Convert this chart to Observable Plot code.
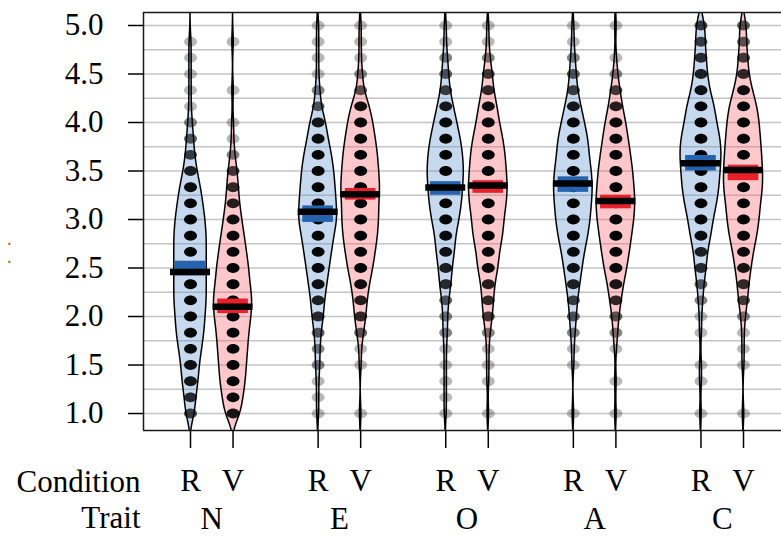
<!DOCTYPE html>
<html><head><meta charset="utf-8">
<script src="https://cdn.jsdelivr.net/npm/d3@7"></script>
<script src="https://cdn.jsdelivr.net/npm/@observablehq/plot@0.6"></script>
<style>
html,body{margin:0;padding:0;background:#fff;overflow:hidden}
</style>
</head><body><div id="chart"></div>
<script>
const traits = ["N", "E", "O", "A", "C"];
const conditions = ["R", "V"];
// response levels (1/6 steps)
const levels = [1.000,1.167,1.333,1.500,1.667,1.833,2.000,2.167,2.333,2.500,2.667,2.833,3.000,3.167,3.333,3.500,3.667,3.833,4.000,4.167,4.333,4.500,4.667,4.833,5.000];
// number of responses at each level (index 0 = 1.0 ... 24 = 5.0)
const countsNR = [4,5,7,8,10,12,13,14,14,14,14,14,13,11,9,6,4,3,2,1,1,1,1,1,0];
const countsNV = [7,9,11,12,13,14,16,17,15,14,12,10,8,6,5,4,2,1,1,0,1,0,0,1,0];
const countsER = [1,1,1,2,2,3,5,6,8,10,12,14,17,16,15,14,12,9,7,3,2,1,1,1,1];
const countsEV = [1,0,0,1,1,3,5,6,8,11,13,15,16,16,17,16,15,13,11,8,3,2,1,1,1];
const countsOR = [1,1,1,1,1,2,2,3,5,6,8,9,12,14,15,16,15,13,10,7,4,3,2,1,1];
const countsOV = [1,0,1,1,1,2,4,5,6,9,10,13,14,16,17,16,15,13,10,8,5,4,2,1,1];
const countsAR = [1,0,0,1,1,2,3,4,6,8,10,13,15,16,17,16,14,13,10,7,4,3,2,1,1];
const countsAV = [1,0,1,0,1,2,3,5,7,10,12,14,16,17,16,15,13,11,9,6,4,2,1,0,1];
const countsCR = [1,0,1,1,0,1,1,2,3,5,6,9,11,14,16,17,18,17,14,12,8,6,5,4,4];
const countsCV = [1,0,0,1,1,1,2,4,5,7,9,12,14,15,17,17,16,15,14,12,8,5,4,3,3];
// means and inference bands per trait
const meanR  = [2.46, 3.08, 3.33, 3.37, 3.58];
const meanV  = [2.10, 3.26, 3.35, 3.19, 3.51];
const infLoR = [2.42, 2.97, 3.25, 3.28, 3.50];
const infHiR = [2.57, 3.14, 3.39, 3.44, 3.66];
const infLoV = [2.03, 3.20, 3.27, 3.11, 3.40];
const infHiV = [2.18, 3.32, 3.40, 3.25, 3.56];
const yTicks = [1.0, 1.5, 2.0, 2.5, 3.0, 3.5, 4.0, 4.5, 5.0];
const gridLevels = [1.0,1.25,1.5,1.75,2.0,2.25,2.5,2.75,3.0,3.25,3.5,3.75,4.0,4.25,4.5,4.75,5.0];

const countsByBean = {NR: countsNR, NV: countsNV, ER: countsER, EV: countsEV, OR: countsOR,
  OV: countsOV, AR: countsAR, AV: countsAV, CR: countsCR, CV: countsCV};

const beans = [];
traits.forEach((t, i) => conditions.forEach((c, j) => {
  beans.push({
    id: t + c, trait: t, cond: c, pos: 3 * i + j + 1,
    counts: countsByBean[t + c],
    mean: (c === "R" ? meanR : meanV)[i],
    lo: (c === "R" ? infLoR : infLoV)[i],
    hi: (c === "R" ? infHiR : infHiV)[i]
  });
}));
const traitPos = traits.map((t, i) => 3 * i + 1.5);

// kernel density per bean
const bw = 0.11;
let maxD = 0;
const densRows = [];
const dotRows = [];
for (const b of beans) {
  const pts = levels.map((v, k) => ({v, n: b.counts[k]})).filter(p => p.n > 0);
  pts.forEach(p => dotRows.push({pos: b.pos, y: p.v, n: p.n}));
  const lo = d3.min(pts, p => p.v) - 4 * bw, hi = d3.max(pts, p => p.v) + 4 * bw;
  for (let y = lo; y <= hi + 1e-9; y += 0.005) {
    let s = 0;
    for (const p of pts) s += p.n * Math.exp(-0.5 * ((y - p.v) / bw) ** 2);
    densRows.push({id: b.id, cond: b.cond, pos: b.pos, y, d: s});
    if (s > maxD) maxD = s;
  }
}
const widthMax = 0.48;
densRows.forEach(r => r.hw = r.d / maxD * widthMax);

// slightly wide oval point symbol (jittered points look oval)
const ovalSymbol = {
  draw(ctx, size) {
    const r = Math.sqrt(size / Math.PI);
    const rx = r * 1.15, ry = r * 0.88, k = 0.5523;
    ctx.moveTo(rx, 0);
    ctx.bezierCurveTo(rx, ry * k, rx * k, ry, 0, ry);
    ctx.bezierCurveTo(-rx * k, ry, -rx, ry * k, -rx, 0);
    ctx.bezierCurveTo(-rx, -ry * k, -rx * k, -ry, 0, -ry);
    ctx.bezierCurveTo(rx * k, -ry, rx, -ry * k, rx, 0);
    ctx.closePath();
  }
};

const blueFill = "#5c92d1", redFill = "#f6626d";
const blueBand = "#2563ae", redBand = "#e8202a";
const xDomain = [-0.105, 14.893];
const yDomain = [0.825, 5.134];
const alpha = 0.28;

const chart = Plot.plot({
  width: 781, height: 536,
  marginLeft: 143, marginRight: 0, marginTop: 12, marginBottom: 106,
  x: {domain: xDomain, label: null},
  y: {domain: yDomain, label: null},
  opacity: {type: "identity"},
  style: {fontFamily: "'Liberation Serif', 'Times New Roman', serif", fontSize: "31px", background: "#fff"},
  marks: [
    Plot.ruleY(gridLevels, {stroke: "#c4c4c4", strokeWidth: 1.5}),
    Plot.areaX(densRows.filter(d => d.cond === "R"), {y: "y", x1: d => d.pos - d.hw, x2: d => d.pos + d.hw, z: "id",
      fill: blueFill, fillOpacity: 0.35, stroke: "#000", strokeWidth: 1.5, clip: true}),
    Plot.areaX(densRows.filter(d => d.cond === "V"), {y: "y", x1: d => d.pos - d.hw, x2: d => d.pos + d.hw, z: "id",
      fill: redFill, fillOpacity: 0.35, stroke: "#000", strokeWidth: 1.5, clip: true}),
    Plot.dot(dotRows, {x: "pos", y: "y", r: 5.6, symbol: ovalSymbol, fill: "#000", stroke: "none",
      fillOpacity: d => 1 - Math.pow(1 - alpha, d.n), clip: true}),
    Plot.rect(beans.filter(b => b.cond === "R"), {x1: d => d.pos - 0.36, x2: d => d.pos + 0.36, y1: "lo", y2: "hi", fill: blueBand}),
    Plot.rect(beans.filter(b => b.cond === "V"), {x1: d => d.pos - 0.36, x2: d => d.pos + 0.36, y1: "lo", y2: "hi", fill: redBand}),
    Plot.ruleY(beans, {y: "mean", x1: d => d.pos - 0.47, x2: d => d.pos + 0.47, stroke: "#000", strokeWidth: 6.5}),
    Plot.ruleX([xDomain[0]], {stroke: "#1a1a1a", strokeWidth: 1.5}),
    Plot.ruleY([yDomain[0], yDomain[1]], {stroke: "#1a1a1a", strokeWidth: 1.5}),
    Plot.axisY(yTicks, {tickFormat: d => d.toFixed(1), tickSize: 15, tickPadding: 25, strokeWidth: 1.5, fontSize: 31, label: null}),
    Plot.axisX(beans.map(b => b.pos), {tickFormat: p => beans.find(b => b.pos === p).cond, tickSize: 18, tickPadding: 20, strokeWidth: 1.5, fontSize: 31, label: null}),
    Plot.axisX(traitPos, {tickFormat: p => traits[traitPos.indexOf(p)], tickSize: 0, tickPadding: 76, fontSize: 31, label: null}),
    Plot.text(["Condition"], {frameAnchor: "bottom-left", textAnchor: "end", dx: -3, dy: 51.5, lineAnchor: "middle", fontSize: 31}),
    Plot.text(["Trait"], {frameAnchor: "bottom-left", textAnchor: "end", dx: -3, dy: 88, lineAnchor: "middle", fontSize: 31}),
    Plot.text(["·\n·"], {frameAnchor: "top-left", dx: -136.5, dy: 240, lineAnchor: "middle", lineHeight: 1.25, fontSize: 14, fill: "#b5651d", fontWeight: "bold"})
  ]
});
document.getElementById("chart").appendChild(chart);
</script>
</body></html>
